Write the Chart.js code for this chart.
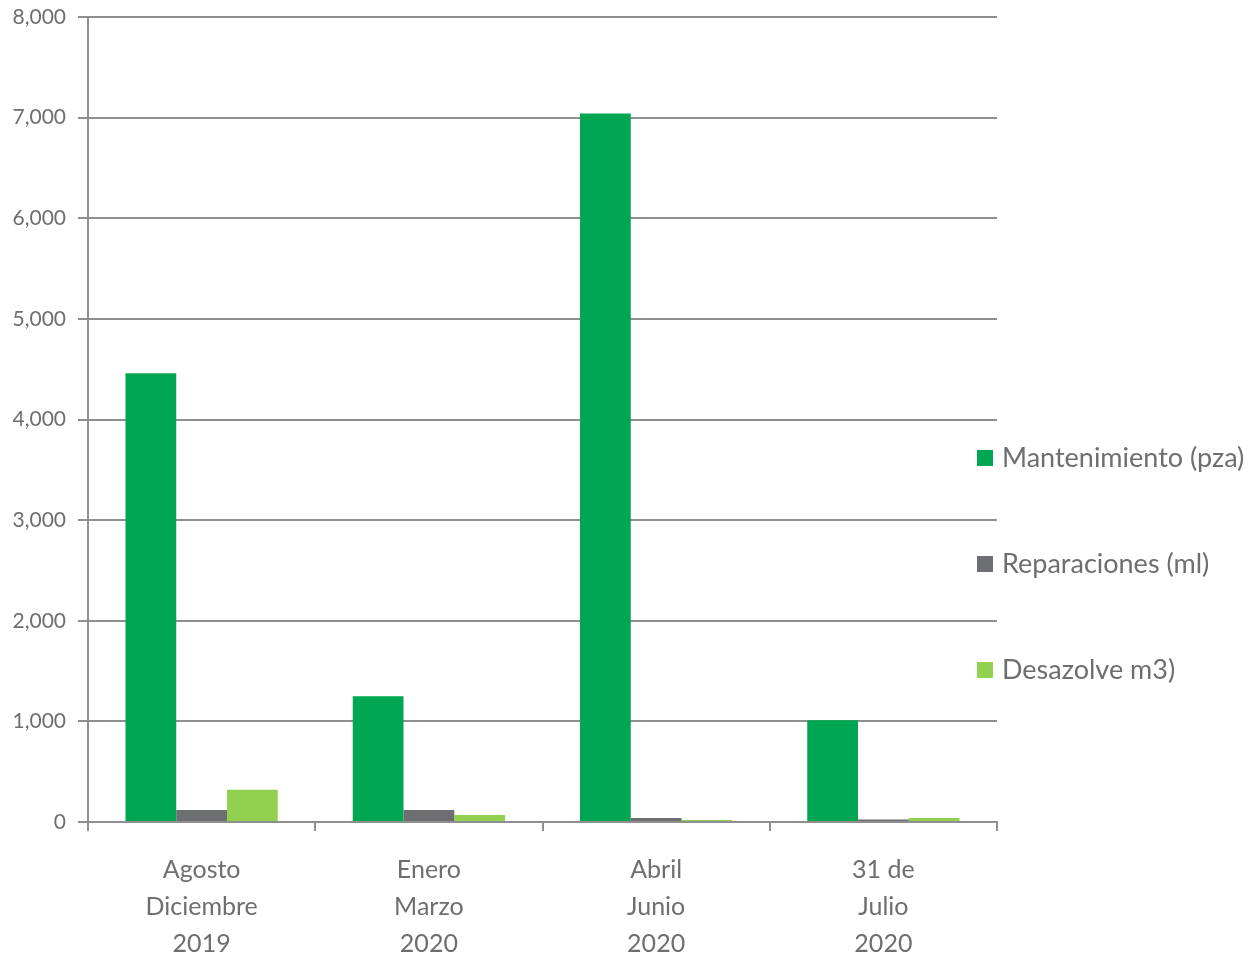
<!DOCTYPE html>
<html>
<head>
<meta charset="utf-8">
<script src="https://cdn.jsdelivr.net/npm/chart.js@4/dist/chart.umd.min.js"></script>
<style>
html,body{margin:0;padding:0;background:#fff;}
#wrap{width:1257px;height:953px;position:relative;}
</style>
</head>
<body>
<div id="wrap"><canvas id="c" width="1257" height="953"></canvas></div>
<script>
const categories = [["Agosto","Diciembre","2019"],["Enero","Marzo","2020"],["Abril","Junio","2020"],["31 de","Julio","2020"]];
const seriesNames = ["Mantenimiento (pza)","Reparaciones (ml)","Desazolve m3)"];
const mantenimiento = [4460, 1250, 7040, 1010];
const reparaciones = [120, 120, 40, 25];
const desazolve = [320, 70, 20, 40];
const yTicks = [0,1000,2000,3000,4000,5000,6000,7000,8000];

const colors = ["#00A651","#6D6E71","#92D050"];
const textColor = "#6D6E71";
const gridColor = "#8F8F8F";
const FONT = "Lato";

const legendPlugin = {
  id: "sideLegend",
  afterDraw(chart) {
    const ctx = chart.ctx;
    const ca = chart.chartArea;
    ctx.save();
    ctx.font = "27px " + FONT;
    ctx.textBaseline = "middle";
    ctx.textAlign = "left";
    chart.data.datasets.forEach((ds, i) => {
      const y = ca.top + 441 + i * 106;
      const x = ca.right - 20;
      ctx.fillStyle = ds.backgroundColor;
      ctx.fillRect(x, y - 8, 16, 16);
      ctx.fillStyle = textColor;
      ctx.fillText(ds.label, x + 25, y);
    });
    ctx.restore();
  }
};

new Chart(document.getElementById("c"), {
  type: "bar",
  data: {
    labels: categories,
    datasets: [
      { label: seriesNames[0], data: mantenimiento, backgroundColor: colors[0] },
      { label: seriesNames[1], data: reparaciones, backgroundColor: colors[1] },
      { label: seriesNames[2], data: desazolve, backgroundColor: colors[2] }
    ]
  },
  options: {
    responsive: false,
    animation: false,
    devicePixelRatio: 1,
    layout: { padding: { top: 17, right: 260, left: 0, bottom: 0 } },
    datasets: { bar: { categoryPercentage: 0.67, barPercentage: 1.0 } },
    plugins: { legend: { display: false }, tooltip: { enabled: false } },
    scales: {
      x: {
        offset: true,
        grid: { offset: true, drawOnChartArea: false, drawTicks: true, tickLength: 9, color: gridColor, lineWidth: 2 },
        border: { display: true, color: gridColor, width: 2 },
        ticks: { color: textColor, font: { family: FONT, size: 25, lineHeight: 1.48 }, padding: 20, maxRotation: 0, autoSkip: false },
        afterFit(scale) { scale.height = 131; scale.paddingLeft = 0; scale.paddingRight = 0; }
      },
      y: {
        min: 0, max: 8000,
        afterBuildTicks(scale) { scale.ticks = yTicks.map(v => ({ value: v })); },
        grid: { color: gridColor, lineWidth: 2, tickLength: 10, drawTicks: true },
        border: { display: true, color: gridColor, width: 2 },
        ticks: { color: textColor, font: { family: FONT, size: 21 }, padding: 12,
          callback: v => v.toLocaleString("en-US") },
        afterFit(scale) { scale.width = 88; scale.paddingTop = 0; scale.paddingBottom = 0; }
      }
    }
  },
  plugins: [legendPlugin]
});
</script>
</body>
</html>
